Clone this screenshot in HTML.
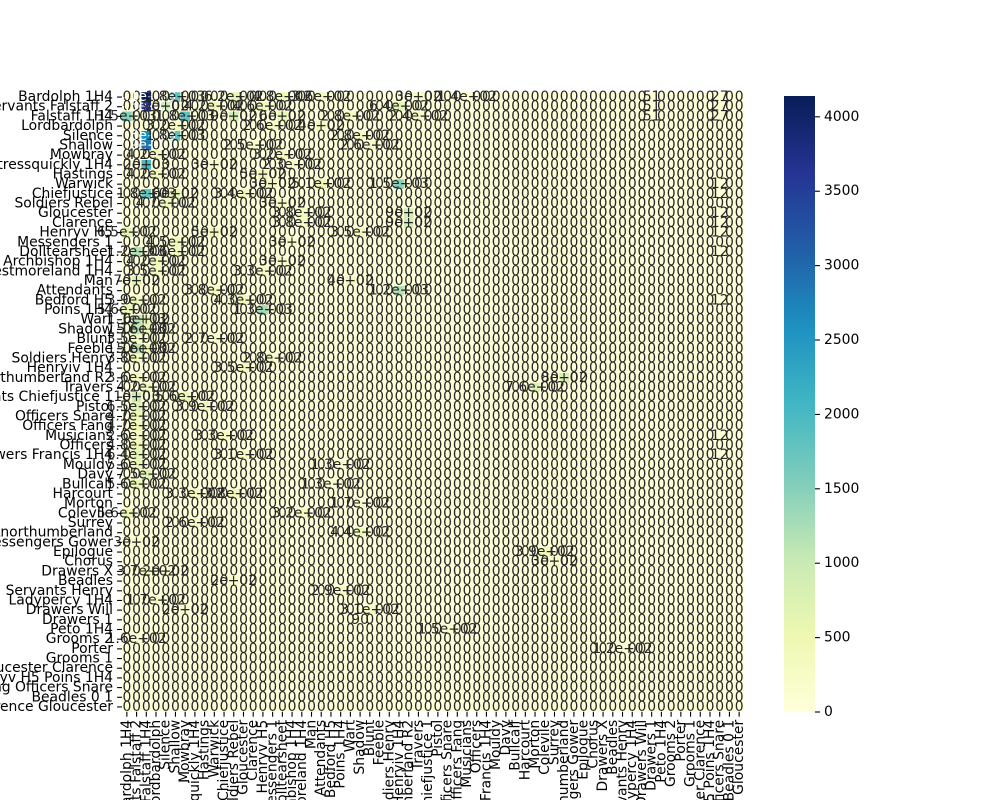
<!DOCTYPE html>
<html><head><meta charset="utf-8">
<style>
html,body{margin:0;padding:0;background:#fff;width:1000px;height:800px;overflow:hidden;}
svg{display:block;font-family:"DejaVu Sans","Liberation Sans",sans-serif;}
</style></head>
<body>
<svg id="chart" width="1000" height="800" viewBox="0 0 1000 800" xmlns="http://www.w3.org/2000/svg" overflow="hidden"></svg>
<script>
const labels = ["Bardolph 1H4","Servants Falstaff 2","Falstaff 1H4","Lordbardolph","Silence","Shallow","Mowbray","Mistressquickly 1H4","Hastings","Warwick","Chiefjustice","Soldiers Rebel","Gloucester","Clarence","Henryv H5","Messengers 1","Dolltearsheet","Archbishop 1H4","Westmoreland 1H4","Man","Attendants","Bedford H5","Poins 1H4","Wart","Shadow","Blunt","Feeble","Soldiers Henry","Henryiv 1H4","Northumberland R2","Travers","Servants Chiefjustice 1","Pistol","Officers Snare","Officers Fang","Musicians","Officers","Drawers Francis 1H4","Mouldy","Davy","Bullcalf","Harcourt","Morton","Colevile","Surrey","Lnorthumberland","Messengers Gower","Epilogue","Chorus","Drawers X","Beadles","Servants Henry","Ladypercy 1H4","Drawers Will","Drawers 1","Peto 1H4","Grooms 2","Porter","Grooms 1","Gloucester Clarence","Henryv H5 Poins 1H4","Drawing Officers Snare","Beadles 0 1","Clarence Gloucester"];
// sparse non-zero entries: row index, column index, value
const entryRows = [0,0,0,0,0,0,0,1,1,1,1,1,2,2,2,2,2,2,3,3,3,4,4,4,5,5,5,6,6,7,7,7,8,8,9,9,9,10,10,10,11,11,12,12,13,13,14,14,14,15,15,16,16,17,17,18,18,19,19,20,20,21,21,22,22,23,23,24,24,25,25,26,26,27,27,28,29,29,30,30,31,31,32,32,33,34,35,35,36,37,37,38,38,39,40,40,41,41,42,43,43,44,45,46,47,48,49,49,50,51,52,53,53,54,55,56,57,0,1,2,0,1,2,9,10,12,13,14,16,21,35,37];
const entryCols = [2,5,11,16,20,30,35,2,4,9,14,28,0,6,11,16,23,30,5,15,20,2,5,24,2,13,25,3,16,2,9,17,3,14,15,20,28,2,5,12,4,16,18,29,18,29,0,9,24,5,17,1,5,3,16,3,14,1,23,9,28,1,12,0,14,1,2,1,2,1,9,1,2,1,15,12,1,45,2,42,1,6,1,8,1,1,1,10,1,1,12,1,22,2,1,21,7,11,24,0,18,7,24,1,43,44,2,4,11,22,3,25,6,24,33,1,51,54,54,54,61,61,61,61,61,61,61,61,61,61,61,61];
const entryVals = [4140,1800,620,480,360,300,140,3600,900,420,460,640,1500,1800,900,600,280,240,320,260,400,2600,1800,280,2900,250,260,420,320,2000,300,230,420,500,300,510,1500,1800,600,340,470,300,380,900,380,900,650,500,350,450,300,1200,360,420,300,350,330,700,400,380,1200,390,430,560,1300,1100,600,1100,560,350,270,1100,560,380,280,350,360,800,420,760,1000,560,650,390,470,470,260,330,480,640,310,560,130,750,560,130,330,380,170,560,320,260,440,300,390,300,370,200,200,290,170,310,200,90,150,160,120,51,51,51,27,27,27,12,12,12,12,12,12,12,12,12];

const svg = document.getElementById('chart');
const NS = 'http://www.w3.org/2000/svg';
const N = labels.length;
const FS = '13.9';
const plotLeft = 122, plotRight = 744, plotTop = 92.2, plotBottom = 711.8;
const cw = (plotRight-plotLeft)/N, ch = (plotBottom-plotTop)/N;
const xPos = c => plotLeft + c*cw;
const yPos = r => plotTop + r*ch;

const matrix = [];
for (let r=0;r<N;r++){ matrix.push(new Array(N).fill(0)); }
const nE = Math.min(entryRows.length, entryCols.length, entryVals.length);
for (let i=0;i<nE;i++){
  const r=entryRows[i], c=entryCols[i];
  if (r>=0 && r<N && c>=0 && c<N) matrix[r][c] = Number(entryVals[i])||0;
}
let vmax = 1;
for (const row of matrix) for (const v of row) if (v>vmax) vmax=v;

const stops = ["#ffffd9","#edf8b1","#c7e9b4","#7fcdbb","#41b6c4","#1d91c0","#225ea8","#253494","#081d58"];
function hex(h){return [parseInt(h.slice(1,3),16),parseInt(h.slice(3,5),16),parseInt(h.slice(5,7),16)];}
function rgbArr(t){
  if (!(t>=0)) t=0; if (t>1) t=1;
  const p=t*(stops.length-1); const i=Math.min(stops.length-2,Math.floor(p)); const f=p-i;
  const a=hex(stops[i]), b=hex(stops[i+1]);
  return a.map((v,k)=>Math.round(v+(b[k]-v)*f));
}
function cmap(t){return 'rgb('+rgbArr(t).join(',')+')';}
function lum(t){const m=rgbArr(t);return 0.299*m[0]+0.587*m[1]+0.114*m[2];}
function fmt(v){
  if (v===0) return '0';
  if (v<100) return String(Math.round(v));
  const e=Math.floor(Math.log10(v)); const m=(v/Math.pow(10,e)).toFixed(1).replace(/\.0$/,'');
  return m+'e+'+String(e).padStart(2,'0');
}
function mk(tag, attrs){const el=document.createElementNS(NS,tag);for(const k in attrs)el.setAttribute(k,attrs[k]);return el;}

const gCells = mk('g',{});


const gText = mk('g',{'font-size':FS,'text-anchor':'middle','dominant-baseline':'central'});


svg.appendChild(gCells); svg.appendChild(gText);
for (let r=0;r<N;r++){
  for (let c=0;c<N;c++){
    const v=matrix[r][c], t=v/vmax;
    const rect=mk('rect',{x:xPos(c),y:yPos(r),width:cw+0.3,height:ch+0.3,fill:cmap(t)});
    
    
    gCells.appendChild(rect);
    const tx=mk('text',{x:xPos(c)+cw/2,y:yPos(r)+ch/2,fill:lum(t)<128?'#fff':'#262626'});
    
    
    tx.textContent=fmt(v);
    gText.appendChild(tx);
  }
}
// y axis labels
const gy = mk('g',{'font-size':FS,'text-anchor':'end','dominant-baseline':'central'});


svg.appendChild(gy);
labels.forEach((l,r)=>{
  const y=yPos(r)+ch/2;
  const tk=mk('line',{x1:plotLeft-4.9,x2:plotLeft,y1:y,y2:y,stroke:'#000','stroke-width':1.1});
  
  
  gy.appendChild(tk);
  const t=mk('text',{x:plotLeft-9,y:y});
  
  
  t.textContent=l; gy.appendChild(t);
});
// x axis labels
const gx = mk('g',{'font-size':FS,'text-anchor':'end','dominant-baseline':'central'});


svg.appendChild(gx);
labels.forEach((l,c)=>{
  const x=xPos(c)+cw/2;
  const tk=mk('line',{x1:x,x2:x,y1:plotBottom,y2:plotBottom+4.9,stroke:'#000','stroke-width':1.1});
  
  
  gx.appendChild(tk);
  const t=mk('text',{x:x,y:plotBottom+8,transform:'rotate(-90 '+x+' '+(plotBottom+8)+')'});
  
  
  t.textContent=l; gx.appendChild(t);
});
// colorbar
const cbL=784, cbR=815, cbT=96, cbB=712;
const defs=mk('defs',{}); const grad=mk('linearGradient',{id:'cbg',x1:0,y1:1,x2:0,y2:0});
stops.forEach((s,i)=>{grad.appendChild(mk('stop',{offset:i/(stops.length-1),'stop-color':s}));});
defs.appendChild(grad); svg.appendChild(defs);
const cb=mk('rect',{x:cbL,y:cbT,width:cbR-cbL,height:cbB-cbT,fill:'url(#cbg)'});


svg.appendChild(cb);
const cbTicks=[0,500,1000,1500,2000,2500,3000,3500,4000];
const gcb=mk('g',{'font-size':FS,'dominant-baseline':'central'});


svg.appendChild(gcb);
cbTicks.forEach(v=>{
  if (v>vmax) return;
  const y=cbB-(v/vmax)*(cbB-cbT);
  const tk=mk('line',{x1:cbR,x2:cbR+4.9,y1:y,y2:y,stroke:'#000','stroke-width':1.1});
  
  
  gcb.appendChild(tk);
  const t=mk('text',{x:cbR+9,y:y});
  
  
  t.textContent=String(v); gcb.appendChild(t);
});
</script>
</body></html>
